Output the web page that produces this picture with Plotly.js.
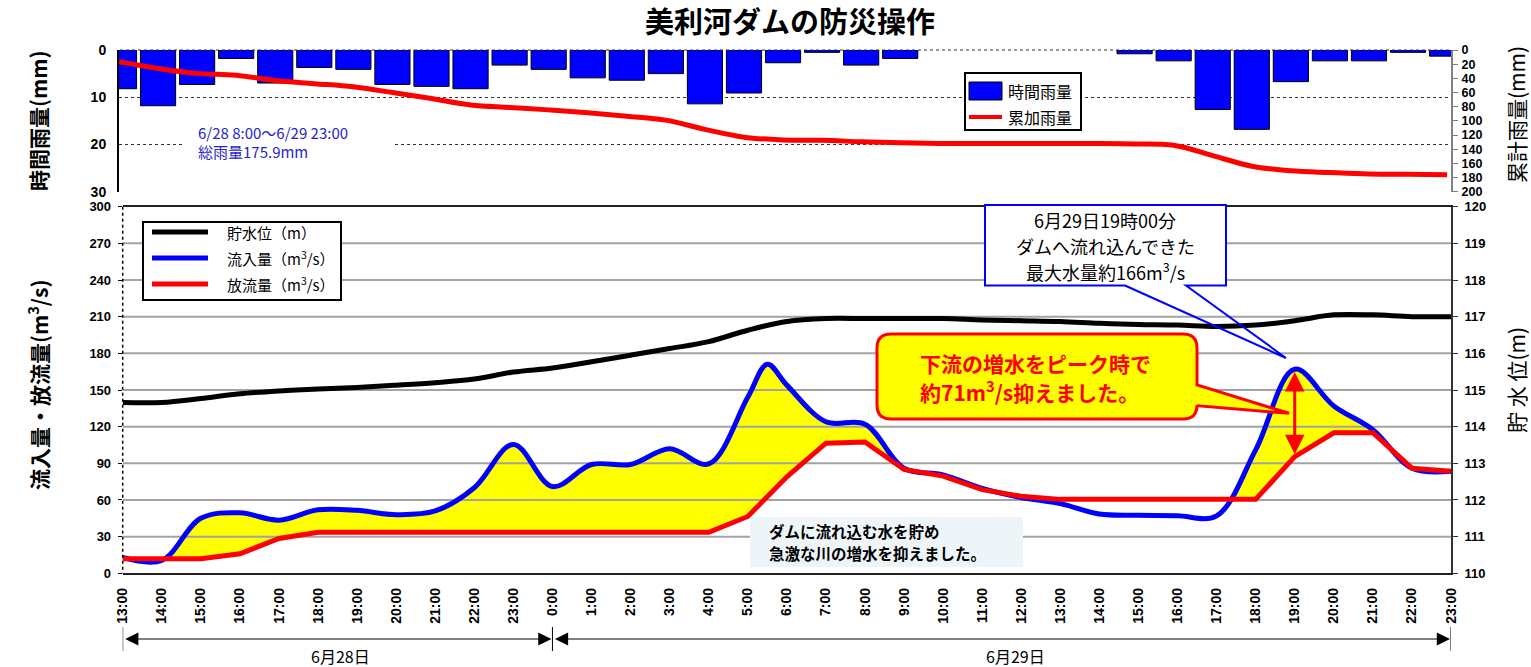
<!DOCTYPE html>
<html><head><meta charset="utf-8">
<script src="https://cdn.plot.ly/plotly-3.0.1.min.js"></script>
<style>html,body{margin:0;padding:0;background:#fff}#chart{width:1531px;height:667px}</style>
</head><body><div id="chart"></div>
<script>
// ---------- data ----------
const hourLabels = ['13:00','14:00','15:00','16:00','17:00','18:00','19:00','20:00','21:00','22:00','23:00',
  '0:00','1:00','2:00','3:00','4:00','5:00','6:00','7:00','8:00','9:00','10:00','11:00','12:00',
  '13:00','14:00','15:00','16:00','17:00','18:00','19:00','20:00','21:00','22:00','23:00'];
const hourIndex = [0,1,2,3,4,5,6,7,8,9,10,11,12,13,14,15,16,17,18,19,20,21,22,23,24,25,26,27,28,29,30,31,32,33,34];
const rainHourly = [8.2,11.8,7.3,1.8,7.0,3.7,4.1,7.3,7.7,8.2,3.2,
  4.1,5.9,6.4,5.0,11.4,9.1,2.7,0.5,3.2,1.8,0,0,0,0,0,0.8,2.3,12.6,16.8,6.7,2.3,2.3,0.5,1.3];
const rainCumulative = [16.5,26,33,35.5,43,47.5,52,60,68.5,77.5,81,
  84.5,88.5,93.5,99,112,123,127,127.5,129.5,131,132,132,132,132,132,132.5,134.5,149,164,170.5,173,175,175.5,175.9];
const storageLevel = [114.66,114.66,114.77,114.90,114.97,115.03,115.07,115.13,115.20,115.30,115.49,
  115.60,115.77,115.95,116.13,116.32,116.63,116.87,116.95,116.95,116.95,116.95,116.91,116.89,
  116.87,116.82,116.79,116.77,116.73,116.77,116.89,117.05,117.05,117.00,117.00];
const outflow = [12,12,12,16,28.5,33.5,33.5,33.5,33.5,33.5,33.5,
  33.5,33.5,33.5,33.5,33.5,46.5,79,106.5,107.5,85,79.5,68.5,63,
  60.5,60.5,60.5,60.5,60.5,60.5,95.5,115,115,86,83.5];
// inflow has one extra reading at 5:30 (hours counted from 6/28 13:00)
const inflowHours = [0,1,2,3,4,5,6,7,8,9,10,11,12,13,14,15,16,16.5,17,18,19,20,21,22,23,24,25,26,27,28,29,30,31,32,33,34];
const inflow = [13,10.5,45,49.5,43.5,52,51.5,48,51,70,105.5,
  71,89,89,102,89.5,144,171,154,124,122,86,80.5,69.5,62,
  57,48.5,47.5,47,47,101,167,137,117.5,86,83.5];
const rainTicks = [0,10,20,30];
const cumTicks = [0,20,40,60,80,100,120,140,160,180,200];
const flowTicks = [0,30,60,90,120,150,180,210,240,270,300];
const levelTicks = [110,111,112,113,114,115,116,117,118,119,120];
const peakIdx = 30; // 6/29 19:00

// ---------- helpers ----------
const W = 1531, H = 667;
const px = x => x / W, py = y => 1 - y / H;
const JP = "'Noto Sans CJK JP', 'Noto Sans', sans-serif";
const AR = "'Liberation Sans', Arial, sans-serif";

// gridlines for lower chart drawn as a trace (so they stay above the fills)
const gx = [], gy = [];
flowTicks.filter(v => v > 0 && v < 300).forEach(v => { gx.push(0, 34, null); gy.push(v, v, null); });

const traces = [
  {type:'bar', x:hourIndex, y:rainHourly, xaxis:'x', yaxis:'y', width:0.9, name:'時間雨量',
   marker:{color:'#0000ff', line:{color:'#000', width:rainHourly.map(v => v > 0 ? 1 : 0)}}, showlegend:false, hoverinfo:'skip'},
  {type:'scatter', mode:'lines', x:hourIndex, y:rainCumulative, xaxis:'x', yaxis:'y2', name:'累加雨量',
   line:{color:'#ff0000', width:5, shape:'spline'}, showlegend:false, hoverinfo:'skip'},
  // yellow area under inflow
  {type:'scatter', mode:'lines', x:inflowHours, y:inflow, xaxis:'x2', yaxis:'y3', fill:'tozeroy',
   fillcolor:'#ffff00', line:{width:0, shape:'spline'}, showlegend:false, hoverinfo:'skip'},
  // white cover under outflow
  {type:'scatter', mode:'lines', x:hourIndex, y:outflow, xaxis:'x2', yaxis:'y3', fill:'tozeroy',
   fillcolor:'#ffffff', line:{width:0}, showlegend:false, hoverinfo:'skip'},
  {type:'scatter', mode:'lines', x:gx, y:gy, xaxis:'x2', yaxis:'y3', connectgaps:false,
   line:{color:'#a3a3a3', width:2}, showlegend:false, hoverinfo:'skip'},
  {type:'scatter', mode:'lines', x:hourIndex, y:storageLevel, xaxis:'x2', yaxis:'y4', name:'貯水位',
   line:{color:'#000', width:5, shape:'spline'}, showlegend:false, hoverinfo:'skip'},
  {type:'scatter', mode:'lines', x:inflowHours, y:inflow, xaxis:'x2', yaxis:'y3', name:'流入量',
   line:{color:'#0000ff', width:5, shape:'spline'}, showlegend:false, hoverinfo:'skip'},
  {type:'scatter', mode:'lines', x:hourIndex, y:outflow, xaxis:'x2', yaxis:'y3', name:'放流量',
   line:{color:'#ff0000', width:5}, showlegend:false, hoverinfo:'skip'}
];

const shapes = [];
const annotations = [];
function rect(x0,y0,x1,y1,fill,lc,lw){ shapes.push({type:'rect', xref:'paper', yref:'paper', x0:px(x0), x1:px(x1), y0:py(y1), y1:py(y0),
  fillcolor:fill, line:{color:lc||'rgba(0,0,0,0)', width:lw||0}, layer:'above'}); }
function seg(x0,y0,x1,y1,color,w,dash,layer){ shapes.push({type:'line', xref:'paper', yref:'paper', x0:px(x0), x1:px(x1), y0:py(y0), y1:py(y1),
  line:{color, width:w, dash:dash||'solid'}, layer:layer||'above'}); }
function path(pts, fill, lc, lw, close){ let d = pts.map((p,i)=> (p[0]==='Q' ? `Q${px(p[1])},${py(p[2])} ${px(p[3])},${py(p[4])}` : (i?'L':'M')+px(p[0])+','+py(p[1]))).join(' ') + (close?' Z':'');
  shapes.push({type:'path', xref:'paper', yref:'paper', path:d, fillcolor:fill, line:{color:lc, width:lw}, layer:'above'}); }
function txt(text,x,y,font,opts){ annotations.push(Object.assign({text, x:px(x), y:py(y), xref:'paper', yref:'paper', showarrow:false,
  xanchor:'center', yanchor:'middle', font:Object.assign({family:JP, color:'#000'}, font)}, opts||{})); }

// top border of rain chart (dotted) and lower chart left axis (dotted)
seg(120,50,1450,50,'#333',1.2,'dot','above');
seg(122.7,206.7,122.7,573.3,'#000',1.5,'dot');

// rain-total note
rect(183,119,392,166,'#ffffff');
txt('6/28 8:00～6/29 23:00',196,132,{size:15,color:'#2626c8'},{xanchor:'left'});
txt('総雨量175.9mm',196,152,{size:15,color:'#2626c8'},{xanchor:'left'});

// top legend
rect(965,73,1081,130,'#ffffff','#000',2);
rect(969,82,1002,100,'#0000ff','#000',1);
seg(969,117,1002,117,'#ff0000',4);
txt('時間雨量',1006,91,{size:16},{xanchor:'left'});
txt('累加雨量',1006,117,{size:16},{xanchor:'left'});

// lower legend
rect(143,222,341,300,'#ffffff','#000',2);
seg(152,232,208,232,'#000',5);
seg(152,258,208,258,'#0000ff',5);
seg(152,284,208,284,'#ff0000',5);
txt('貯水位（m）',225,232,{size:15},{xanchor:'left'});
txt('流入量（m<sup>3</sup>/s）',225,258,{size:15},{xanchor:'left'});
txt('放流量（m<sup>3</sup>/s）',225,284,{size:15},{xanchor:'left'});

// blue callout
rect(985,205,1226,285.5,'#ffffff');
path([[1125,285.5],[985,285.5],[985,205],[1226,205],[1226,285.5],[1186,285.5],[1286,358],[1125,285.5]],'rgba(0,0,0,0)','#0000ff',2,false);
txt('6月29日19時00分',1105,220,{size:18});
txt('ダムへ流れ込んできた',1105,246,{size:18});
txt('最大水量約166m<sup>3</sup>/s',1105,271,{size:18});

// red callout (rounded box with pointer)
const r = 14;
path([[877+r,334],[1197-r,334],['Q',1197,334,1197,334+r],[1197,385],[1289,413.3],[1197,405.7],[1197,419-r],['Q',1197,419,1197-r,419],
      [877+r,419],['Q',877,419,877,419-r],[877,334+r],['Q',877,334,877+r,334]],'#ffff00','#ff0000',3,true);
txt('下流の増水をピーク時で',918,363,{size:21,color:'#ff0000',weight:'bold'},{xanchor:'left'});
txt('約71m<sup>3</sup>/s抑えました。',918,391,{size:21,color:'#ff0000',weight:'bold'},{xanchor:'left'});

// note box
rect(750,517,1023,567,'#eef5f8');
txt('ダムに流れ込む水を貯め',767,531,{size:15.5,weight:'bold'},{xanchor:'left'});
txt('急激な川の増水を抑えました。',767,553,{size:15.5,weight:'bold'},{xanchor:'left'});

// peak-cut double arrow at 19:00
annotations.push({xref:'x2', yref:'y3', axref:'x2', ayref:'y3', x:hourIndex[peakIdx], y:outflow[peakIdx]+2,
  ax:hourIndex[peakIdx], ay:inflow[peakIdx+1]-1, text:'', showarrow:true, arrowside:'end+start',
  arrowhead:2, startarrowhead:2, arrowsize:1.3, startarrowsize:1.3, arrowwidth:3, arrowcolor:'#ff0000', standoff:0, startstandoff:0});

// date range arrows
[[0,11],[11,34]].forEach(([a,b]) => {
  annotations.push({xref:'x2', yref:'paper', axref:'x2', ayref:'pixel', x:b, y:py(639), ax:a, ay:0, text:'', showarrow:true,
    arrowside:'end+start', arrowhead:2, startarrowhead:2, arrowsize:2.2, startarrowsize:2.2, arrowwidth:1.2, arrowcolor:'#000',
    standoff:1, startstandoff:1});
});
[0,11,34].forEach(h => shapes.push({type:'line', xref:'x2', yref:'paper', x0:h, x1:h, y0:py(627), y1:py(651), line:{color:'#000', width:1}}));
txt('6月28日',340,656,{size:16});
txt('6月29日',1015,656,{size:16});

// axis titles
txt('時間雨量(mm)',38,121,{size:21,weight:'bold'},{textangle:-90});
txt('流入量・放流量(m<sup>3</sup>/s)',38,385,{size:21,weight:'bold'},{textangle:-90});
txt('累計雨量(mm)',1516,115,{size:21},{textangle:-90});
txt('貯 水 位(m)',1516,380,{size:21},{textangle:-90});

const tickFont = s => ({family:AR, size:s, color:'#000', weight:'bold'});

const layout = {
  width:W, height:H, autosize:false,
  margin:{l:0,r:0,t:0,b:0,pad:0},
  paper_bgcolor:'#fff', plot_bgcolor:'rgba(0,0,0,0)',
  showlegend:false, bargap:0,
  title:{text:'美利河ダムの防災操作', x:px(790), xanchor:'center', y:py(23), yanchor:'middle',
         font:{family:JP, size:29, color:'#000', weight:'bold'}},
  xaxis:{domain:[px(119),px(1451)], range:[0,34.1], anchor:'y', showticklabels:false, showgrid:false,
         zeroline:false, showline:false, ticks:'', fixedrange:true},
  yaxis:{domain:[py(191.7),py(50)], range:[30,0], anchor:'x', tickvals:rainTicks, showgrid:true,
         gridcolor:'#333', griddash:'dot', gridwidth:1, zeroline:false, showline:true, linecolor:'#000', linewidth:2,
         ticks:'', ticklabelstandoff:8, tickfont:tickFont(14)},
  yaxis2:{overlaying:'y', side:'right', anchor:'x', range:[200,0], tickvals:cumTicks, showgrid:false, zeroline:false,
         showline:true, linecolor:'#808080', linewidth:2, ticks:'outside', ticklen:5, tickcolor:'#808080', tickwidth:1,
         ticklabelstandoff:1, tickfont:tickFont(12.5)},
  xaxis2:{domain:[px(122.7),px(1451)], range:[0,34], anchor:'y3', tickvals:hourIndex, ticktext:hourLabels, tickangle:-90,
         showgrid:false, zeroline:false, showline:true, mirror:true, linecolor:'#222', linewidth:2, ticks:'',
         ticklabelstandoff:7, tickfont:tickFont(14)},
  yaxis3:{domain:[py(573.3),py(206.7)], range:[0,300], anchor:'x2', tickvals:flowTicks, showgrid:false, zeroline:false,
         showline:false, ticks:'outside', ticklen:4, tickcolor:'#000', ticklabelstandoff:4, tickfont:tickFont(13)},
  yaxis4:{overlaying:'y3', side:'right', anchor:'x2', range:[110,120], tickvals:levelTicks, showgrid:false, zeroline:false,
         showline:true, linecolor:'#333', linewidth:2, ticks:'outside', ticklen:5, tickcolor:'#333',
         ticklabelstandoff:4, tickfont:tickFont(13)},
  shapes, annotations
};

Plotly.newPlot('chart', traces, layout, {displayModeBar:false, staticPlot:true});
</script>
</body></html>
